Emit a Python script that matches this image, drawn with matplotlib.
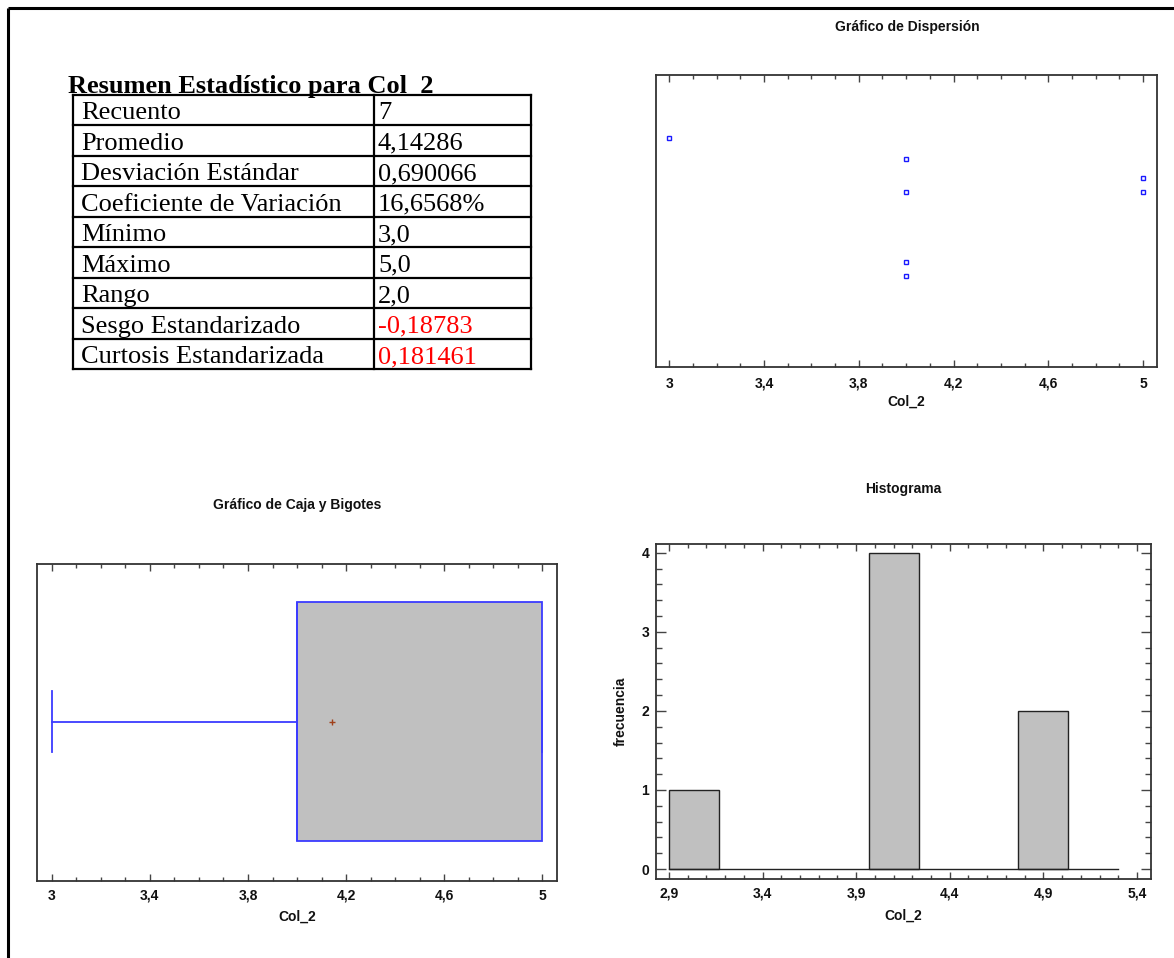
import numpy as np
import matplotlib
matplotlib.use("Agg")
import matplotlib.pyplot as plt
from matplotlib.ticker import MultipleLocator, FixedLocator, FixedFormatter

# ---------------- data ----------------
col2 = [3, 4, 4, 4, 4, 5, 5]
# vertical jitter (axis fraction) of scatter points, same order as col2
jitter = [0.784, 0.712, 0.599, 0.360, 0.312, 0.647, 0.599]

stat_names = ["Recuento", "Promedio", "Desviación Estándar", "Coeficiente de Variación",
              "Mínimo", "Máximo", "Rango", "Sesgo Estandarizado", "Curtosis Estandarizada"]
stat_values = ["7", "4,14286", "0,690066", "16,6568%", "3,0", "5,0", "2,0", "-0,18783", "0,181461"]
stat_red = [False, False, False, False, False, False, False, True, True]

x_ticks_a = [3, 3.4, 3.8, 4.2, 4.6, 5]
x_labels_a = ["3", "3,4", "3,8", "4,2", "4,6", "5"]
hist_xticks = [2.9, 3.4, 3.9, 4.4, 4.9, 5.4]
hist_xlabels = ["2,9", "3,4", "3,9", "4,4", "4,9", "5,4"]
hist_yticks = [0, 1, 2, 3, 4]
hist_bin_start, hist_bin_end, hist_nbins = 2.9, 5.3, 9

W, H = 1174, 958
fig = plt.figure(figsize=(W / 100, H / 100), dpi=100)
fig.patch.set_facecolor("white")

SANS = "Liberation Sans"
SERIF = "Liberation Serif"
TICKFS = 10
LABFS = 10
TITLEFS = 10
spine_col = "#333333"


def px_axes(l, t, r, b):
    return fig.add_axes([l / W, 1 - b / H, (r - l) / W, (b - t) / H])


def style_axes(ax, xpad=13.5):
    for s in ax.spines.values():
        s.set_color(spine_col)
        s.set_linewidth(1.3)
    ax.tick_params(which="both", direction="in", color="#444444", width=1.0,
                   labelsize=TICKFS)
    ax.tick_params(axis="x", which="both", pad=xpad)
    ax.tick_params(axis="y", which="both", pad=5)
    ax.tick_params(which="major", length=5)
    ax.tick_params(which="minor", length=3)
    for lab in ax.get_xticklabels():
        lab.set_verticalalignment("baseline")
    for lab in ax.get_xticklabels() + ax.get_yticklabels():
        lab.set_fontweight("bold")
        lab.set_family(SANS)
        lab.set_color("#111111")


# ---------------- overlay: border + table ----------------
ov = fig.add_axes([0, 0, 1, 1])
ov.set_xlim(0, W)
ov.set_ylim(H, 0)
ov.axis("off")
ov.plot([8, W], [8, 8], color="black", lw=2.2, solid_capstyle="butt")
ov.plot([8, 8], [8, H], color="black", lw=2.2, solid_capstyle="butt")

ov.text(68, 93, "Resumen Estadístico para Col  2", family=SERIF, fontweight="bold",
        fontsize=19, ha="left", va="baseline", color="black")
t_left, t_mid, t_right, t_top, t_bot = 73, 374, 531, 95, 369
nrows = len(stat_names)
rh = (t_bot - t_top) / nrows
for i in range(nrows + 1):
    y = t_top + i * rh
    ov.plot([t_left, t_right], [y, y], color="black", lw=1.6)
for x in (t_left, t_mid, t_right):
    ov.plot([x, x], [t_top, t_bot], color="black", lw=1.6)
for i, (n, v, red) in enumerate(zip(stat_names, stat_values, stat_red)):
    yb = t_top + (i + 1) * rh - 6
    ov.text(81, yb, n, family=SERIF, fontsize=19, ha="left", va="baseline", color="black")
    ov.text(378, yb, v, family=SERIF, fontsize=19, ha="left", va="baseline",
            color="#ff0000" if red else "black")

# ---------------- scatter ----------------
ax1 = px_axes(656, 75, 1157, 367)
ax1.plot(col2, jitter, linestyle="none", marker="s", markersize=3.4,
         markerfacecolor="none", markeredgecolor="#1a1aff", markeredgewidth=1.0)
ax1.set_xlim(2.944, 5.059)
ax1.set_ylim(0, 1)
ax1.xaxis.set_major_locator(FixedLocator(x_ticks_a))
ax1.xaxis.set_major_formatter(FixedFormatter(x_labels_a))
ax1.xaxis.set_minor_locator(MultipleLocator(0.1))
ax1.set_yticks([])
ax1.tick_params(axis="x", which="both", top=True, bottom=True)
style_axes(ax1, xpad=15)
ax1.set_xlabel("Col_2", fontsize=LABFS, fontweight="bold", family=SANS, labelpad=3,
               color="#111111")
fig.text(907 / W, 1 - 27 / H, "Gráfico de Dispersión", ha="center", va="center",
         fontsize=TITLEFS, fontweight="bold", family=SANS, color="#111111")

# ---------------- box plot ----------------
ax2 = px_axes(37, 564, 557, 881)
q1, med, q3 = np.percentile(col2, [25, 50, 75], method="weibull")
stats = [dict(med=med, q1=q1, q3=q3, whislo=min(col2), whishi=max(col2),
              mean=float(np.mean(col2)), fliers=[])]
ax2.bxp(stats, positions=[0.503], widths=[0.753], vert=False, patch_artist=True,
        showmeans=True, showfliers=False, capwidths=[0.19],
        boxprops=dict(facecolor="#c0c0c0", edgecolor="#3b3bff", linewidth=1.3),
        whiskerprops=dict(color="#3b3bff", linewidth=1.3),
        capprops=dict(color="#3b3bff", linewidth=1.3),
        medianprops=dict(color="#3b3bff", linewidth=1.3),
        meanprops=dict(marker="+", markeredgecolor="#a0401a", markersize=4,
                       markeredgewidth=1.0))
ax2.set_xlim(2.940, 5.0595)
ax2.set_ylim(0, 1)
ax2.xaxis.set_major_locator(FixedLocator(x_ticks_a))
ax2.xaxis.set_major_formatter(FixedFormatter(x_labels_a))
ax2.xaxis.set_minor_locator(MultipleLocator(0.1))
ax2.set_yticks([])
ax2.tick_params(axis="x", which="both", top=True, bottom=True)
style_axes(ax2)
ax2.set_xlabel("Col_2", fontsize=LABFS, fontweight="bold", family=SANS, labelpad=5,
               color="#111111")
fig.text(297 / W, 1 - 505 / H, "Gráfico de Caja y Bigotes", ha="center", va="center",
         fontsize=TITLEFS, fontweight="bold", family=SANS, color="#111111")

# ---------------- histogram ----------------
ax3 = px_axes(656, 544, 1151, 879)
bins = np.linspace(hist_bin_start, hist_bin_end, hist_nbins + 1)
counts, edges, patches = ax3.hist(col2, bins=bins, facecolor="#c0c0c0",
                                  edgecolor="#222222", linewidth=1.0)
for p, c in zip(patches, counts):
    if c == 0:
        p.set_visible(False)
ax3.plot([edges[0], edges[-1]], [0, 0], color="#222222", lw=1.0)
ax3.set_xlim(2.8305, 5.475)
ax3.set_ylim(-0.126, 4.11)
ax3.xaxis.set_major_locator(FixedLocator(hist_xticks))
ax3.xaxis.set_major_formatter(FixedFormatter(hist_xlabels))
ax3.xaxis.set_minor_locator(MultipleLocator(0.1))
ax3.yaxis.set_major_locator(FixedLocator(hist_yticks))
ax3.yaxis.set_minor_locator(MultipleLocator(0.2))
ax3.tick_params(axis="both", which="both", top=True, bottom=True, left=True, right=True)
style_axes(ax3)
ax3.tick_params(axis="y", which="major", length=7)
ax3.tick_params(axis="y", which="minor", length=4)
ax3.set_xlabel("Col_2", fontsize=LABFS, fontweight="bold", family=SANS, labelpad=6,
               color="#111111")
ax3.set_ylabel("frecuencia", fontsize=LABFS, fontweight="bold", family=SANS, labelpad=10,
               color="#111111")
fig.text(903 / W, 1 - 489 / H, "Histograma", ha="center", va="center",
         fontsize=TITLEFS, fontweight="bold", family=SANS, color="#111111")

fig.savefig("out.png", dpi=100, facecolor="white")
